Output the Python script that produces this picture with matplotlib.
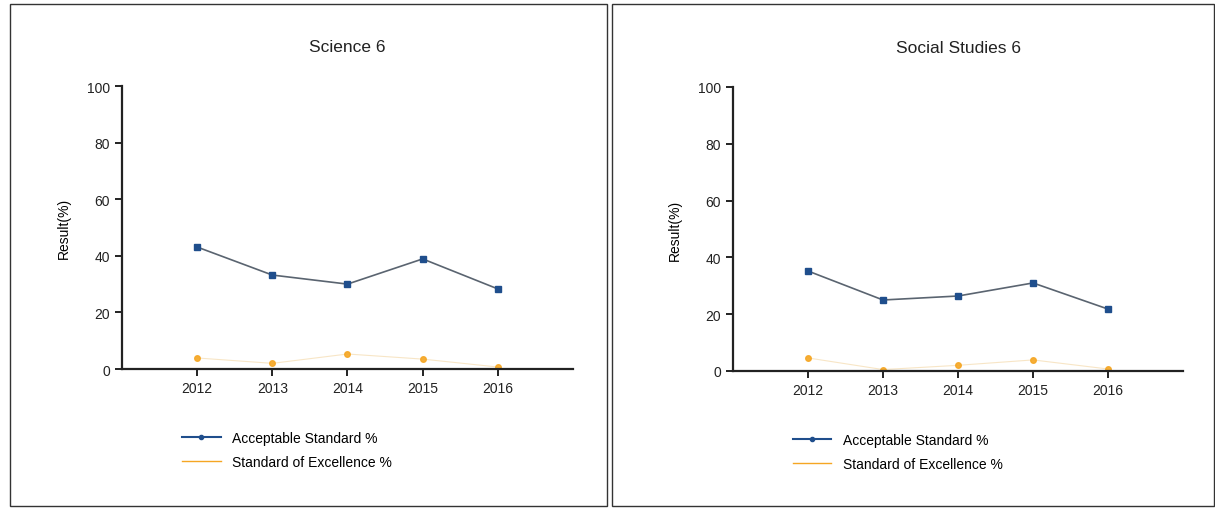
import matplotlib.pyplot as plt
from matplotlib.lines import Line2D
from matplotlib.patches import Rectangle

plt.rcParams['font.family'] = ['Liberation Sans', 'DejaVu Sans']

years = [2012, 2013, 2014, 2015, 2016]

# Science 6
sci_acceptable = [43.1, 33.2, 30.0, 38.9, 28.3]
sci_excellence = [3.9, 2.0, 5.3, 3.5, 0.7]

# Social Studies 6
soc_acceptable = [35.2, 25.0, 26.4, 31.0, 21.8]
soc_excellence = [4.6, 0.5, 2.0, 3.9, 0.7]

titles = ['Science 6', 'Social Studies 6']
legend_labels = ['Acceptable Standard %', 'Standard of Excellence %']

blue = '#1f4e8c'
line_grey = '#5a6470'
orange = '#f5a623'

fig = plt.figure(figsize=(12.15, 5.1), dpi=100)

# panel frames
fig.add_artist(Rectangle((10 / 1215, 0.005), 597 / 1215, 0.985, transform=fig.transFigure,
                         fill=False, edgecolor='#333333', linewidth=1.0))
fig.add_artist(Rectangle((612 / 1215, 0.005), 602 / 1215, 0.985, transform=fig.transFigure,
                         fill=False, edgecolor='#333333', linewidth=1.0))

ax_pos = [[0.1004, 0.2745, 0.3712, 0.5549], [0.6033, 0.2706, 0.3704, 0.5569]]
data = [(sci_acceptable, sci_excellence), (soc_acceptable, soc_excellence)]

for pos, title, (acc, exc) in zip(ax_pos, titles, data):
    ax = fig.add_axes(pos)
    ax.plot(years, acc, color=line_grey, linewidth=1.2, marker='s', markersize=5,
            markerfacecolor=blue, markeredgecolor=blue)
    ax.plot(years, exc, color='#f7e3c0', linewidth=0.8, marker='o', markersize=4,
            markerfacecolor=orange, markeredgecolor=orange, alpha=0.9)
    ax.set_xlim(2011, 2017)
    ax.set_ylim(0, 100)
    ax.set_xticks(years)
    ax.set_yticks([0, 20, 40, 60, 80, 100])
    ax.spines['top'].set_visible(False)
    ax.spines['right'].set_visible(False)
    for s in ('left', 'bottom'):
        ax.spines[s].set_linewidth(1.6)
        ax.spines[s].set_color('#222222')
    ax.tick_params(axis='both', direction='out', length=5, width=1.4, labelsize=10, colors='#222222')
    ax.set_ylabel('Result(%)', fontsize=10, labelpad=12)
    ax.set_title(title, fontsize=12.5, pad=25, color='#222222')
    handles = [Line2D([], [], color=blue, linewidth=1.5, marker='o', markersize=3),
               Line2D([], [], color=orange, linewidth=1.0)]
    ax.legend(handles, legend_labels, loc='upper left', bbox_to_anchor=(0.12, -0.2),
              frameon=False, fontsize=10, handlelength=2.8, labelspacing=0.7,
              borderaxespad=0)

fig.savefig('out.png', dpi=100)
